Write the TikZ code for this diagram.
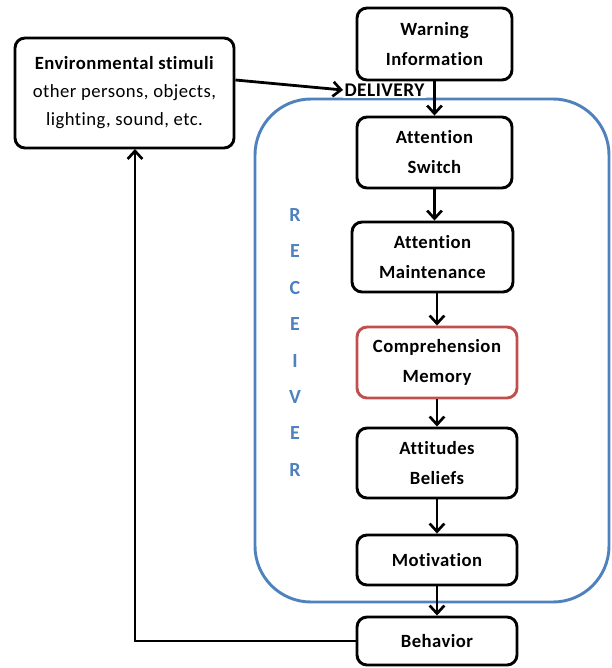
\documentclass[tikz,border=0pt]{standalone}
\usepackage{fontspec}
\setmainfont{Carlito}[RawFeature=-liga, LetterSpace=2.5]
\usetikzlibrary{arrows.meta}
\definecolor{recblue}{RGB}{79,129,189}
\definecolor{compred}{RGB}{192,80,77}
\begin{document}
\begin{tikzpicture}[x=0.75pt,y=-0.75pt,
  box/.style={draw=black, line width=2.2pt, rounded corners=7.5pt, align=center,
    font=\bfseries\fontsize{14}{22.5}\selectfont, inner sep=0pt},
  arr/.style={line width=2.1pt, -{Straight Barb[length=6pt,width=11pt,line width=2pt]}},
  rec/.style={text=recblue, font=\bfseries\fontsize{15}{18}\selectfont, inner sep=0pt},
  recbox/.style={draw=recblue, line width=2.2pt, rounded corners=42pt}
]
\useasboundingbox (0,0) rectangle (611,668);
% receiver frame
\draw[recbox] (255,99) rectangle (609,602);
% boxes
\node[box, minimum width=155*0.75pt, minimum height=72*0.75pt] (warn) at (434.5,44) {Warning\\Information};
\node[box, minimum width=155*0.75pt, minimum height=71*0.75pt] (switch) at (434.5,152.5) {Attention\\Switch};
\node[box, minimum width=161*0.75pt, minimum height=70*0.75pt] (maint) at (432.5,257) {Attention\\Maintenance};
\node[box, draw=compred, minimum width=160*0.75pt, minimum height=71*0.75pt] (comp) at (437,362.5) {Comprehension\\Memory};
\node[box, minimum width=160*0.75pt, minimum height=70*0.75pt] (att) at (437,463) {Attitudes\\Beliefs};
\node[box, minimum width=160*0.75pt, minimum height=50*0.75pt] (motiv) at (437,560) {Motivation};
\node[box, minimum width=160*0.75pt, minimum height=48*0.75pt] (behav) at (437,641) {Behavior};
\node[box, minimum width=219*0.75pt, minimum height=110*0.75pt, font=\fontsize{14}{21}\selectfont] (env) at (124.5,93)
  {\textbf{Environmental stimuli}\\other persons, objects,\\lighting, sound, etc.};
% delivery label
\node[fill=white, inner xsep=1pt, inner ysep=1pt, font=\bfseries\fontsize{14.5}{16}\selectfont, anchor=west] (deliv) at (343,90) {DELIVERY};
% receiver letters
\foreach \l [count=\i] in {R,E,C,E,I,V,E,R}
  \node[rec] (r\i) at (295,215+36.4*\i-36.4) {\l};
% arrows
\draw[arr] ([yshift=9.75pt]env.east) -- (deliv.west);
\draw[arr] (warn.south) -- (switch.north);
\draw[arr] (switch.south) -- (switch.south |- maint.north);
\draw[arr] (maint.south -| comp.north) -- (comp.north);
\draw[arr] (comp.south) -- (att.north);
\draw[arr] (att.south) -- (motiv.north);
\draw[arr] (motiv.south) -- (behav.north);
\coordinate (fb) at (135,149);
\draw[arr] (behav.west) -| (fb);
\end{tikzpicture}
\end{document}
